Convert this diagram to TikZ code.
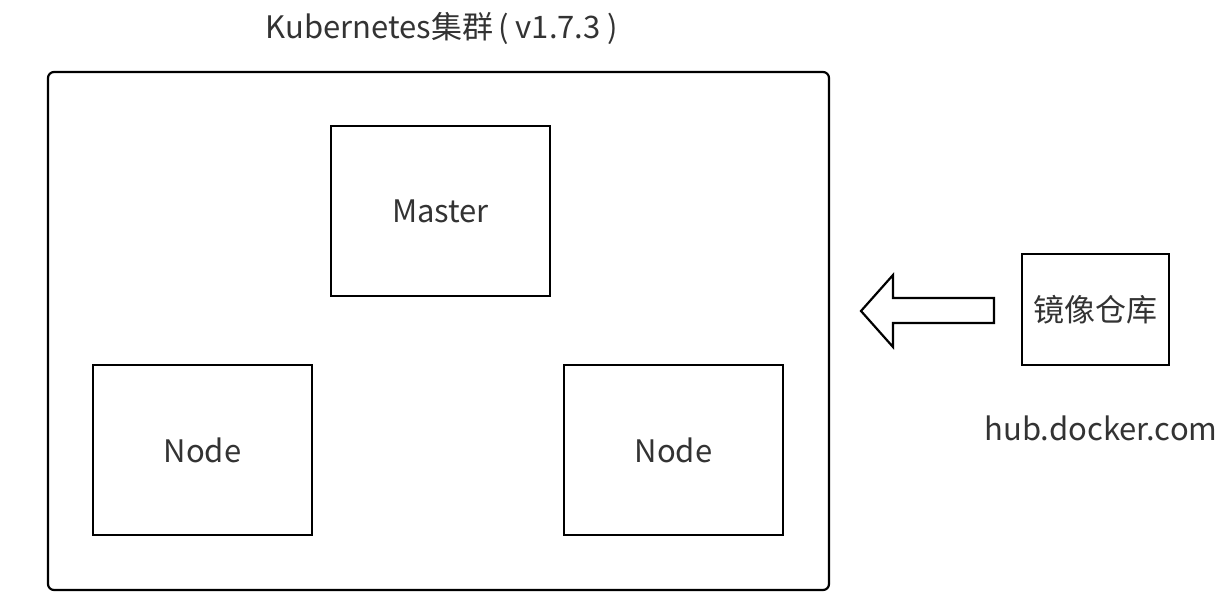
\documentclass[tikz,border=0pt]{standalone}
\usepackage{fontspec}
\setmainfont{Noto Sans CJK SC}
\usetikzlibrary{calc}

\begin{document}
\begin{tikzpicture}[x=0.5pt,y=-0.5pt,line width=1.1pt,
        labeltext/.style={font=\fontsize{15.5}{18}\selectfont,text=black!80,inner sep=0pt}]
        \newcommand{\figkubeclusterxstart}{48}
        \newcommand{\figkubeclusterystart}{72}
        \newcommand{\figkubeclusterxend}{829}
        \newcommand{\figkubeclusteryend}{590}
        \newcommand{\figkubeboxwidth}{219}
        \newcommand{\figkubeboxheight}{170}
        \newcommand{\figkubemasterx}{331}
        \newcommand{\figkubemastery}{126}
        \newcommand{\figkubenodeax}{93}
        \newcommand{\figkubenodebx}{564}
        \newcommand{\figkubenodey}{365}
        \newcommand{\figkuberepox}{1022}
        \newcommand{\figkuberepoy}{254}
        \newcommand{\figkuberepowidth}{147}
        \newcommand{\figkuberepoheight}{111}
        \newcommand{\figkubearrowtipx}{861}
        \newcommand{\figkubearrowheadx}{893}
        \newcommand{\figkubearrowtailx}{994}
        \newcommand{\figkubearrowy}{311}
        \useasboundingbox (0,0) rectangle (1226,606);
        % cluster frame
        \draw[rounded corners=3pt] (\figkubeclusterxstart,\figkubeclusterystart) rectangle (\figkubeclusterxend,\figkubeclusteryend);
        \node[labeltext] (clustertitle) at (442,28) {Kubernetes集群\,(\ v1.7.3\ )};
        % master and nodes
        \draw (\figkubemasterx,\figkubemastery) rectangle ++(\figkubeboxwidth,\figkubeboxheight);
        \node[labeltext] (master) at (\figkubemasterx+0.5*\figkubeboxwidth,\figkubemastery+0.5*\figkubeboxheight) {Master};
        \draw (\figkubenodeax,\figkubenodey) rectangle ++(\figkubeboxwidth,\figkubeboxheight);
        \node[labeltext] (nodea) at (\figkubenodeax+0.5*\figkubeboxwidth,\figkubenodey+0.5*\figkubeboxheight) {Node};
        \draw (\figkubenodebx,\figkubenodey) rectangle ++(\figkubeboxwidth,\figkubeboxheight);
        \node[labeltext] (nodeb) at (\figkubenodebx+0.5*\figkubeboxwidth,\figkubenodey+0.5*\figkubeboxheight) {Node};
        % image registry
        \draw (\figkuberepox,\figkuberepoy) rectangle ++(\figkuberepowidth,\figkuberepoheight);
        \node[labeltext] (repo) at (\figkuberepox+0.5*\figkuberepowidth,\figkuberepoy+0.5*\figkuberepoheight) {镜像仓库};
        \node[labeltext] (repourl) at (1101,428) {hub.docker.com};
        % block arrow
        \draw[line join=miter] (\figkubearrowtailx,\figkubearrowy-13) -- (\figkubearrowheadx,\figkubearrowy-13) -- (\figkubearrowheadx,\figkubearrowy-36)
            -- (\figkubearrowtipx,\figkubearrowy) -- (\figkubearrowheadx,\figkubearrowy+36) -- (\figkubearrowheadx,\figkubearrowy+12)
            -- (\figkubearrowtailx,\figkubearrowy+12) -- cycle;
\end{tikzpicture}
\end{document}
